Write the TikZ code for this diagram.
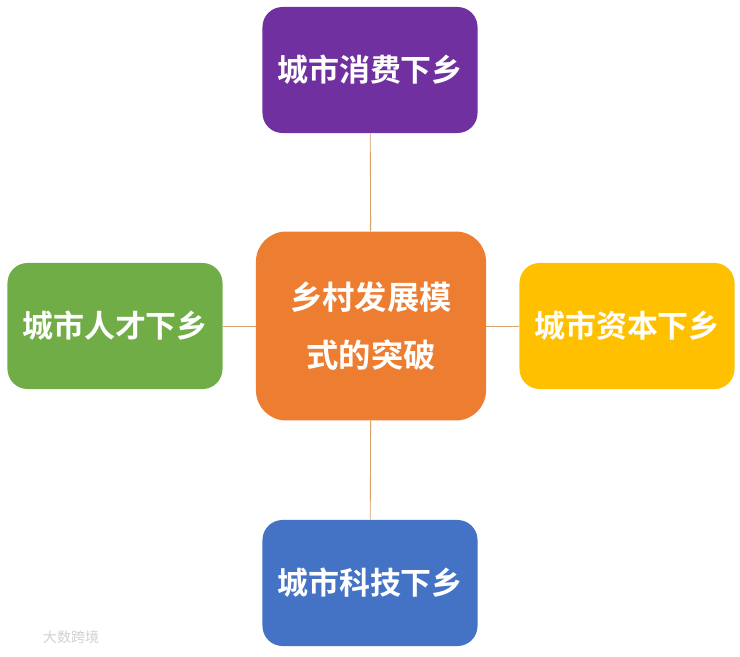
\documentclass[tikz,border=0pt]{standalone}
\usepackage{fontspec}
\setmainfont{Noto Sans CJK SC}[BoldFont={Noto Sans CJK SC Bold}]
\usetikzlibrary{positioning}
\definecolor{mypurple}{HTML}{7030A0}
\definecolor{myorange}{HTML}{ED7D31}
\definecolor{mygreen}{HTML}{70AD47}
\definecolor{myyellow}{HTML}{FFC000}
\definecolor{myblue}{HTML}{4472C4}
\definecolor{linkcol}{HTML}{D9A06A}

\begin{document}
\begin{tikzpicture}[x=0.025cm, y=-0.025cm,
        every node/.style={font=\bfseries\fontsize{22}{26}\selectfont},
        leaf/.style={rounded corners=0.5cm, text=white, inner sep=0pt,
        minimum width=5.375cm, minimum height=3.15cm},
        hub/.style={rounded corners=0.75cm, fill=myorange, text=white, inner sep=0pt,
        minimum width=5.75cm, minimum height=4.72cm, align=center,
        font=\bfseries\fontsize{23}{41}\selectfont},
        link/.style={draw=linkcol, line width=0.6pt}]
      \useasboundingbox (0,0) rectangle (740,656);
      \node[hub] (hub) at (371,326) {乡村发展模\\式的突破};
      \node[leaf, fill=mypurple] (top) at (370,70) {城市消费下乡};
      \node[leaf, fill=mygreen] (left) at (115,326) {城市人才下乡};
      \node[leaf, fill=myyellow] (right) at (627,326) {城市资本下乡};
      \node[leaf, fill=myblue] (bottom) at (370,583) {城市科技下乡};
      \draw[link] (top) -- (hub);
      \draw[link] (left) -- (hub);
      \draw[link] (right) -- (hub);
      \draw[link] (bottom) -- (hub);
      % watermark
      \node[text=black!18, font=\fontsize{10}{12}\selectfont, anchor=west] (mark) at (38,637) {大数跨境};
    \end{tikzpicture}
\end{document}
